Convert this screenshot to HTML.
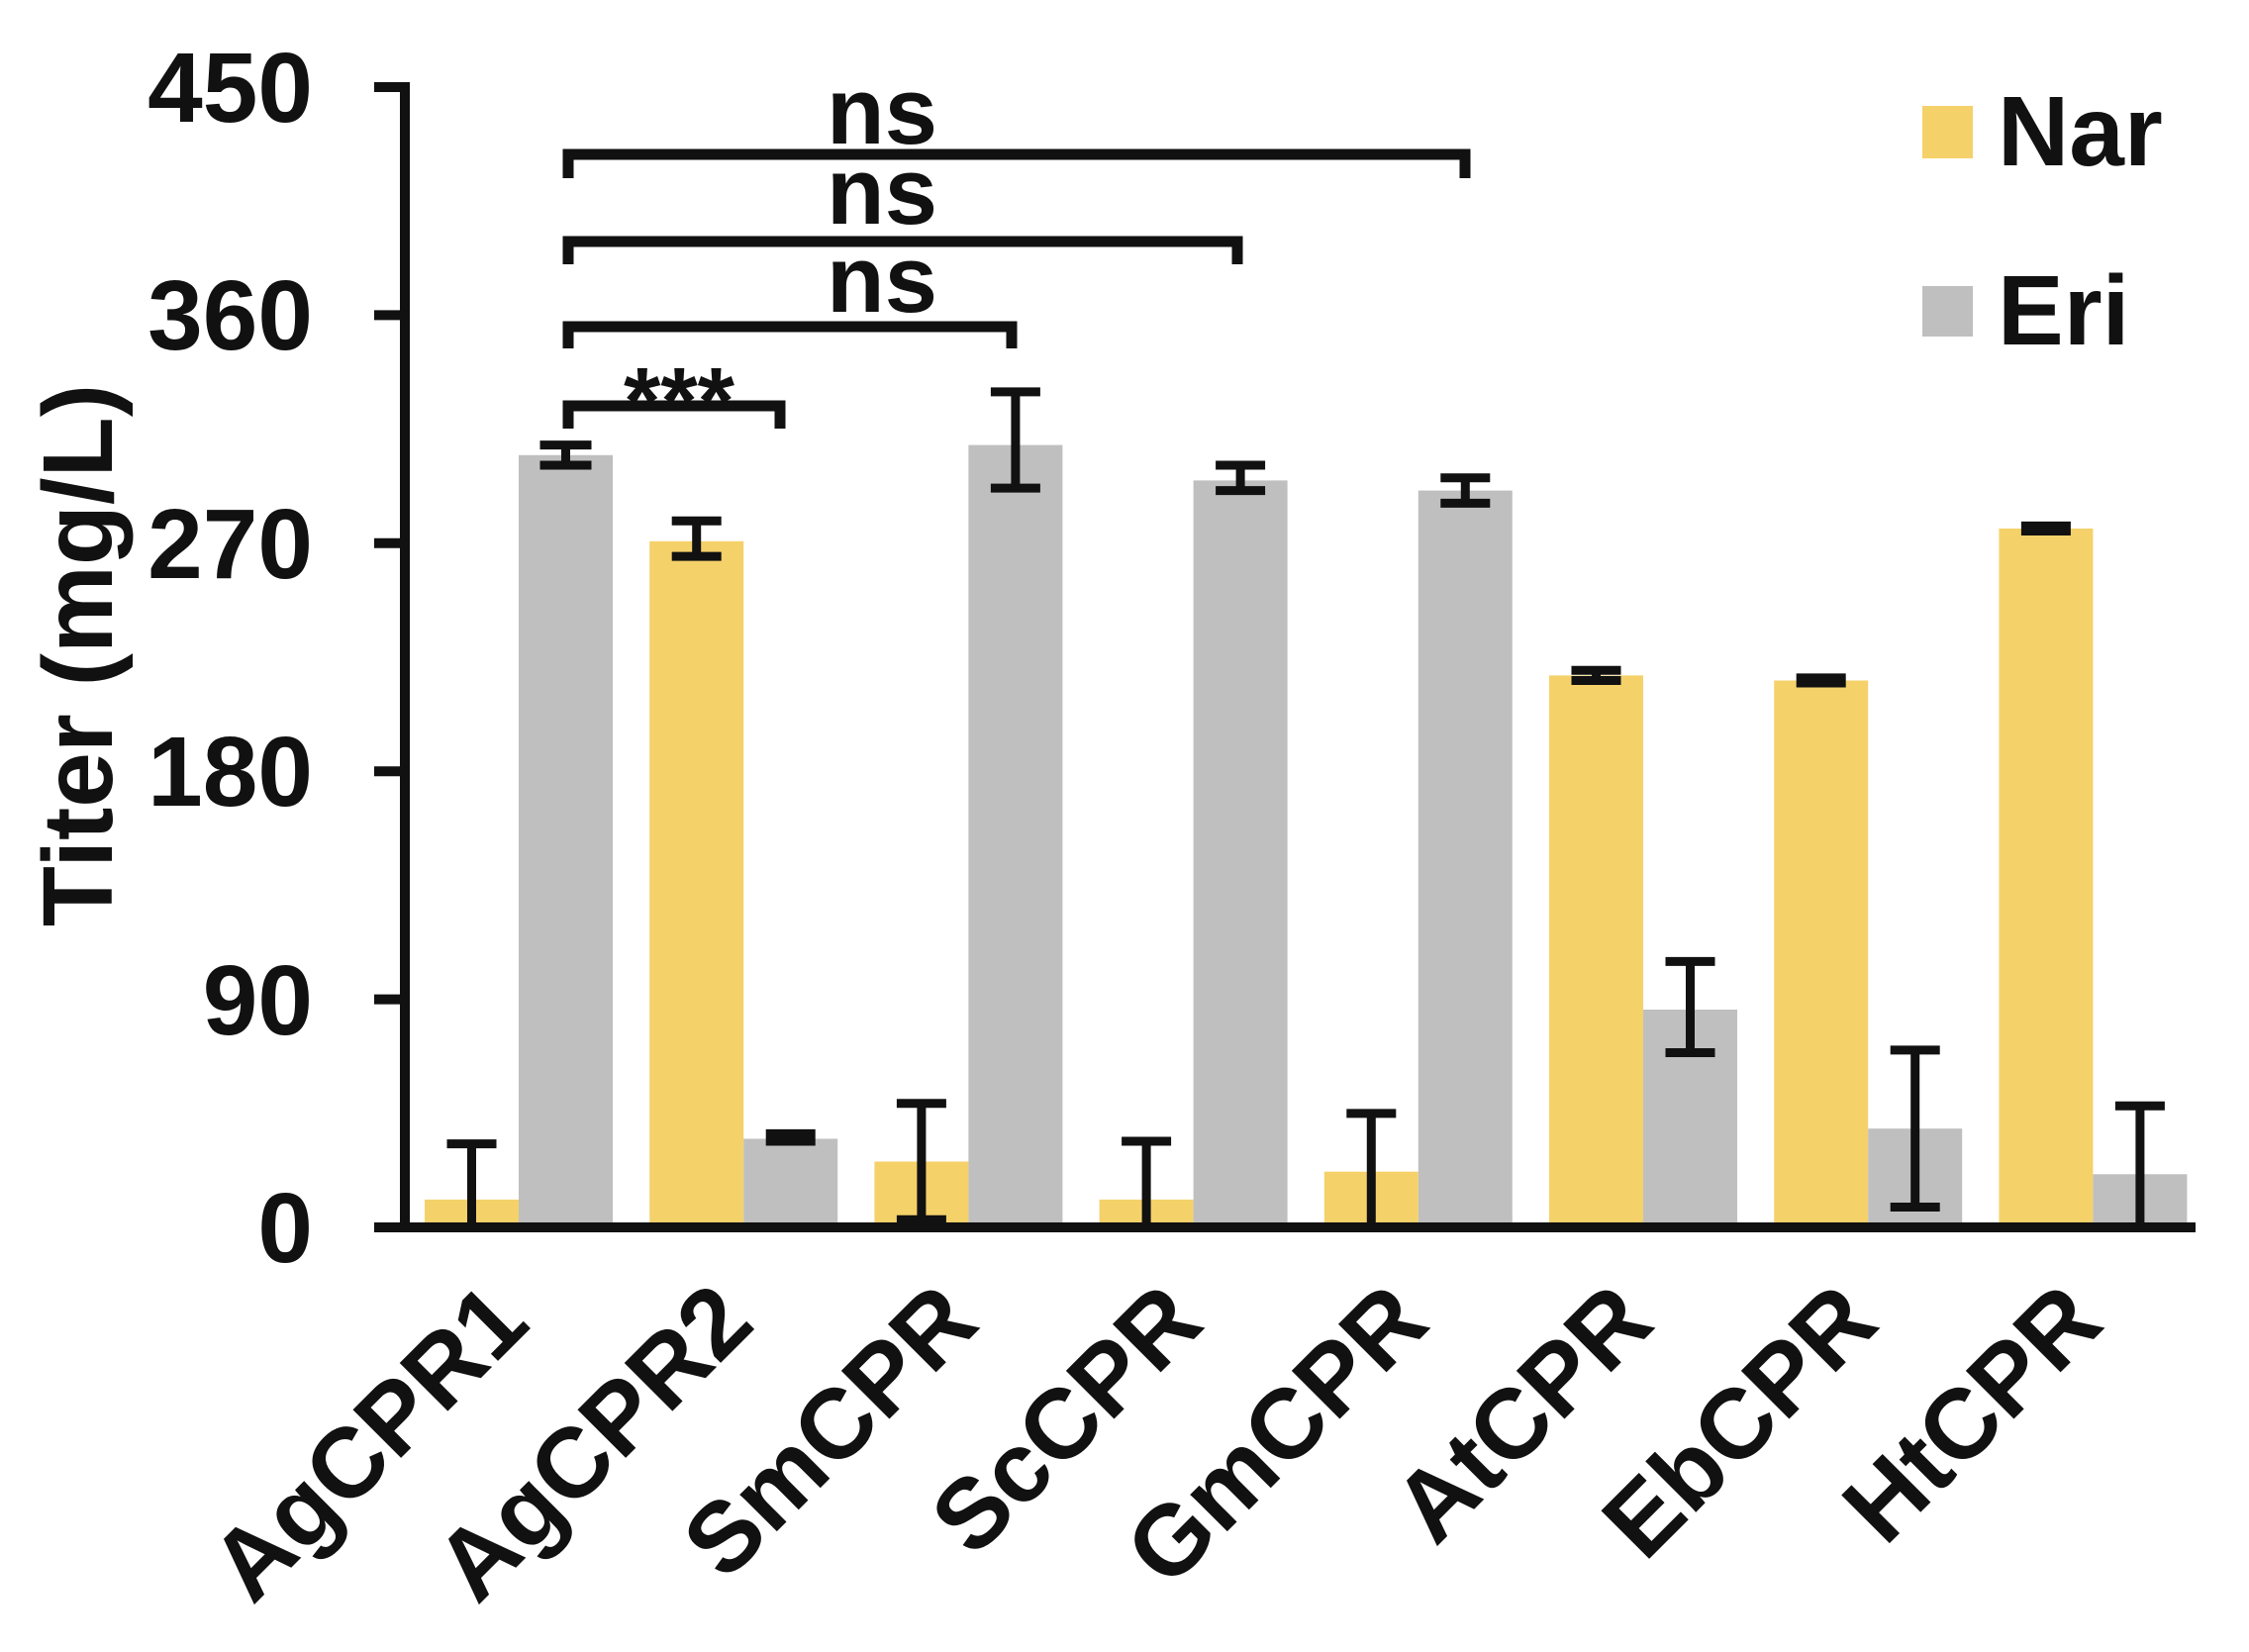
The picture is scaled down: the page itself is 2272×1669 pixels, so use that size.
<!DOCTYPE html>
<html><head><meta charset="utf-8"><style>html,body{margin:0;padding:0;background:#fff}svg{display:block}</style></head>
<body>
<svg width="2272" height="1669" viewBox="0 0 2272 1669" xmlns="http://www.w3.org/2000/svg" font-family="Liberation Sans, Arial, sans-serif" font-weight="bold">
<rect width="2272" height="1669" fill="#fff"/>
<g fill="#F5D16A">
<rect x="429" y="1211.9" width="95" height="28.1"/>
<rect x="656.2" y="546.8" width="95" height="693.2"/>
<rect x="883.4" y="1173.5" width="95" height="66.5"/>
<rect x="1110.6" y="1211.9" width="95" height="28.1"/>
<rect x="1337.8" y="1183.7" width="95" height="56.3"/>
<rect x="1565" y="682.4" width="95" height="557.6"/>
<rect x="1792.2" y="687.5" width="95" height="552.5"/>
<rect x="2019.4" y="534" width="95" height="706"/>
</g>
<g fill="#BFBFBF">
<rect x="524" y="459.8" width="95" height="780.2"/>
<rect x="751.2" y="1150.5" width="95" height="89.5"/>
<rect x="978.4" y="449.6" width="95" height="790.4"/>
<rect x="1205.6" y="485.4" width="95" height="754.6"/>
<rect x="1432.8" y="495.6" width="95" height="744.4"/>
<rect x="1660" y="1020" width="95" height="220"/>
<rect x="1887.2" y="1140.2" width="95" height="99.8"/>
<rect x="2114.4" y="1186.3" width="95" height="53.7"/>
</g>
<g stroke="#111" stroke-width="9" fill="none">
<path d="M476.5 1155.6V1240M451.5 1155.6h50"/>
<path d="M571.5 449.6V470M545.5 449.6h52M545.5 470h52"/>
<path d="M703.7 526.3V562.1M678.7 526.3h50M678.7 562.1h50"/>
<path d="M798.7 1145.4V1153M773.7 1145.4h50M773.7 1153h50"/>
<path d="M930.9 1114.7V1232.3M905.9 1114.7h50M905.9 1232.3h50"/>
<path d="M1025.9 395.9V493.1M1000.9 395.9h50M1000.9 493.1h50"/>
<path d="M1158.1 1153V1240M1133.1 1153h50"/>
<path d="M1253.1 470V495.6M1228.1 470h50M1228.1 495.6h50"/>
<path d="M1385.3 1124.9V1240M1360.3 1124.9h50"/>
<path d="M1480.3 482.8V508.4M1455.3 482.8h50M1455.3 508.4h50"/>
<path d="M1612.5 677.2V687.5M1587.5 677.2h50M1587.5 687.5h50"/>
<path d="M1707.5 971.4V1063.5M1682.5 971.4h50M1682.5 1063.5h50"/>
<path d="M1839.7 684.9V690M1814.7 684.9h50M1814.7 690h50"/>
<path d="M1934.7 1060.9V1219.5M1909.7 1060.9h50M1909.7 1219.5h50"/>
<path d="M2066.9 531.4V536.5M2041.9 531.4h50M2041.9 536.5h50"/>
<path d="M2161.9 1117.2V1240M2136.9 1117.2h50"/>
</g>
<g stroke="#111" stroke-width="10" fill="none">
<path d="M409 83V1240"/>
<path d="M378 1240H2218"/>
<path d="M378 88h31M378 318.4h31M378 548.8h31M378 779.2h31M378 1009.6h31"/>
</g>
<g font-size="100" text-anchor="end" fill="#111">
<text x="316" y="123">450</text>
<text x="316" y="353">360</text>
<text x="316" y="584">270</text>
<text x="316" y="814">180</text>
<text x="316" y="1045">90</text>
<text x="316" y="1275">0</text>
</g>
<text transform="translate(113,662) rotate(-90)" font-size="100" text-anchor="middle" fill="#111">Titer (mg/L)</text>
<g stroke="#111" stroke-width="11" fill="none">
<path d="M574 433V410H788V433"/>
<path d="M574 352V330H1022V352"/>
<path d="M574 267V244H1250V267"/>
<path d="M574 180V156H1480V180"/>
</g>
<g font-size="96" text-anchor="middle" fill="#111">
<text x="686" y="438">***</text>
<text x="891" y="315">ns</text>
<text x="891" y="226">ns</text>
<text x="891" y="145">ns</text>
</g>
<rect x="1942" y="107" width="51" height="53" fill="#F5D16A"/>
<rect x="1942" y="289" width="51" height="51" fill="#BFBFBF"/>
<g font-size="100" fill="#111">
<text x="2018" y="167">Nar</text>
<text x="2018" y="348">Eri</text>
</g>
<g font-size="100" text-anchor="end" fill="#111">
<text transform="translate(538,1340) rotate(-45)">AgCPR1</text>
<text transform="translate(765,1340) rotate(-45)">AgCPR2</text>
<text transform="translate(992,1340) rotate(-45)">SmCPR</text>
<text transform="translate(1219,1340) rotate(-45)">ScCPR</text>
<text transform="translate(1447,1340) rotate(-45)">GmCPR</text>
<text transform="translate(1674,1340) rotate(-45)">AtCPR</text>
<text transform="translate(1901,1340) rotate(-45)">EbCPR</text>
<text transform="translate(2128,1340) rotate(-45)">HtCPR</text>
</g>
</svg>
</body></html>
